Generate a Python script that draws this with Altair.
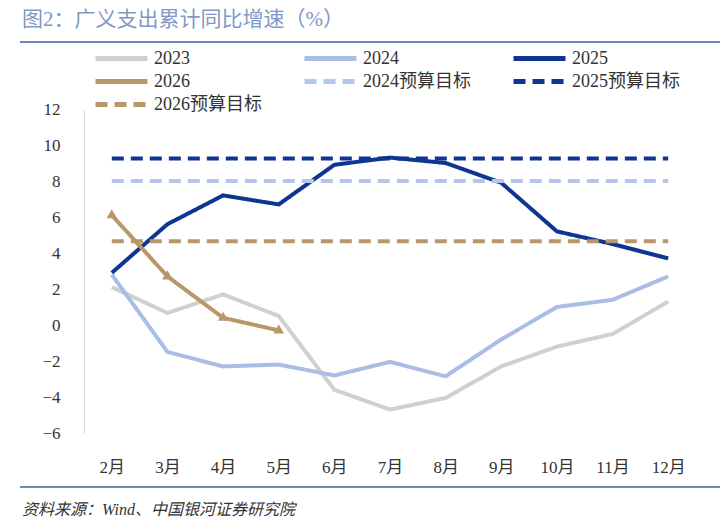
import altair as alt
import pandas as pd

months = ["2月", "3月", "4月", "5月", "6月", "7月", "8月", "9月", "10月", "11月", "12月"]
y2023 = [2.1, 0.67, 1.7, 0.5, -3.6, -4.7, -4.05, -2.3, -1.2, -0.5, 1.3]
y2024 = [2.8, -1.5, -2.3, -2.2, -2.8, -2.05, -2.85, -0.8, 1.0, 1.4, 2.7]
y2025 = [2.9, 5.6, 7.2, 6.7, 8.9, 9.3, 9.0, 7.9, 5.2, 4.5, 3.7]
y2026 = [6.1, 2.7, 0.4, -0.3]
target2024 = 8.0
target2025 = 9.25
target2026 = 4.65

series = ["2023", "2024", "2025", "2026", "2024预算目标", "2025预算目标", "2026预算目标"]
colors = ["#d0d0d0", "#a9bde6", "#0d3591", "#b8976a", "#b4c6ea", "#0d3591", "#b8976a"]
dashes = [[1, 0], [1, 0], [1, 0], [1, 0], [12, 7], [12, 7], [12, 7]]

rows = []
for name, vals in [("2023", y2023), ("2024", y2024), ("2025", y2025), ("2026", y2026)]:
    for m, v in zip(months, vals):
        rows.append({"month": m, "value": v, "series": name})
for name, v in [("2024预算目标", target2024), ("2025预算目标", target2025), ("2026预算目标", target2026)]:
    for m in months:
        rows.append({"month": m, "value": v, "series": name})
df = pd.DataFrame(rows)

FONT = "'Liberation Serif', 'Noto Sans CJK SC', serif"

x = alt.X("month:N", sort=months, scale=alt.Scale(paddingInner=1, paddingOuter=0.5),
          axis=alt.Axis(title=None, labelAngle=0, domain=False, ticks=False, labelPadding=26,
                        labelFontSize=17, labelColor="#333", labelFont=FONT))
y = alt.Y("value:Q", scale=alt.Scale(domain=[-6, 12], nice=False),
          axis=alt.Axis(title=None, values=list(range(-6, 13, 2)), grid=False, ticks=False,
                        domainColor="#d9d9d9", labelPadding=24, labelFontSize=17,
                        labelColor="#333", labelFont=FONT))

legend = alt.Legend(title=None, orient="none", legendX=9, legendY=-60, columns=3,
                    direction="horizontal",
                    symbolType="stroke", symbolSize=2700, symbolStrokeWidth=5, clipHeight=19,
                    labelFontSize=18, labelFont=FONT, labelColor="#333", gridAlign="all",
                    columnPadding=40, rowPadding=4, labelLimit=200)

lines = alt.Chart(df).mark_line(strokeWidth=4).encode(
    x=x, y=y,
    color=alt.Color("series:N", sort=series, scale=alt.Scale(domain=series, range=colors), legend=legend),
    strokeDash=alt.StrokeDash("series:N", sort=series, scale=alt.Scale(domain=series, range=dashes), legend=legend),
)

pts = alt.Chart(df[df.series == "2026"]).mark_point(shape="triangle", filled=True, size=110,
                                                   color="#b8976a", opacity=1).encode(x=x, y=y)

def txt(s, px, py, **kw):
    return alt.Chart(pd.DataFrame({"t": [s]})).mark_text(align="left", baseline="middle", **kw).encode(
        text="t:N", x=alt.value(px), y=alt.value(py))

title = txt("图2：广义支出累计同比增速（%）", -62, -89, fontSize=21, color="#7f98c5", font=FONT)
source = txt("资料来源：Wind、中国银河证券研究院", -62, 401, fontSize=16, color="#333",
             font=FONT, fontStyle="italic")
rule_top = alt.Chart(pd.DataFrame({"a": [0]})).mark_rule(color="#6d87bd", strokeWidth=2).encode(
    x=alt.value(-64), x2=alt.value(636), y=alt.value(-67))
rule_bot = alt.Chart(pd.DataFrame({"a": [0]})).mark_rule(color="#6d87bd", strokeWidth=2).encode(
    x=alt.value(-64), x2=alt.value(636), y=alt.value(378))

chart = alt.layer(lines, pts, title, source, rule_top, rule_bot).properties(
    width=612, height=324,
    autosize=alt.AutoSizeParams(type="none"),
    padding={"left": 76, "top": 101, "right": 24, "bottom": 91},
).configure_view(stroke=None)

chart.save("out.html", embed_options={"renderer": "svg", "actions": False})
